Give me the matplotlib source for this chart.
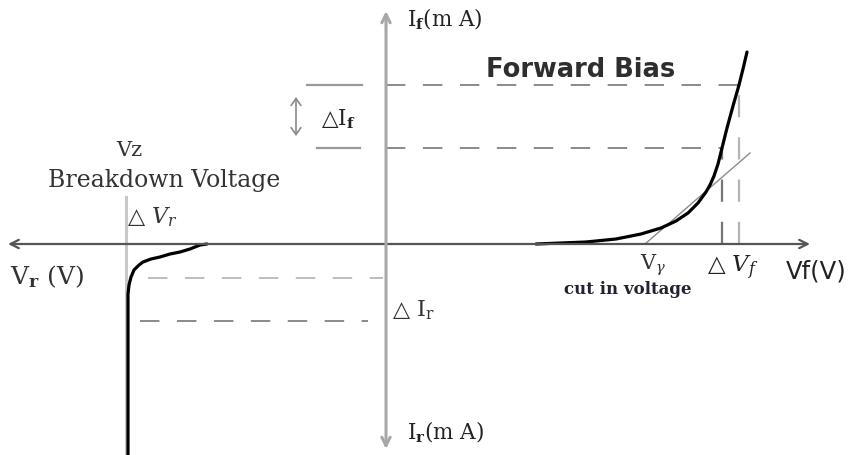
import matplotlib
matplotlib.use("Agg")
import matplotlib.pyplot as plt

plt.rcParams["mathtext.fontset"] = "custom"
plt.rcParams["mathtext.rm"] = "DejaVu Serif"
plt.rcParams["mathtext.it"] = "DejaVu Serif:italic"
plt.rcParams["mathtext.bf"] = "DejaVu Serif:bold"

# Forward-bias branch (voltage, current) in drawing units
fwd_v = [150, 200, 230, 255, 275, 290, 302, 312, 320, 324, 328, 332, 336, 341, 347, 353, 357, 361]
fwd_i = [0, 2, 5, 10, 16, 23, 31, 41, 52, 59, 68, 80, 96, 116, 138, 159, 175, 192]

# Reverse-bias branch up to breakdown
rev_v = [-258, -258, -257, -255, -252, -247, -243, -235, -226, -216, -206, -196, -186, -179]
rev_i = [-211, -50, -41, -33, -26, -21, -18, -15, -13, -10, -8, -5, -1, 0]

# Tangent used to find the cut-in voltage
tan_v = [259, 364]
tan_i = [0, 91]

# Operating points marking the small-signal changes
fwd_idx = [12, 15]          # points on the forward branch
rev_levels = [-34, -77]     # reverse current levels
breakdown_v = -260

fig = plt.figure(figsize=(8.54, 4.55), dpi=100)
ax = fig.add_axes([0, 0, 1, 1])
ax.set_xlim(-386, 468)
ax.set_ylim(-211, 244)
ax.axis("off")

serif = ["DejaVu Serif", "DejaVu Sans"]

# Axes with arrowheads
ax.annotate("", xy=(-378, 0), xytext=(424, 0),
            arrowprops=dict(arrowstyle="<->,head_length=0.6,head_width=0.3",
                            color="#555555", lw=1.6, shrinkA=0, shrinkB=0))
ax.annotate("", xy=(0, 233), xytext=(0, -205),
            arrowprops=dict(arrowstyle="<->,head_length=0.6,head_width=0.3",
                            color="#a8a8a8", lw=2.2, shrinkA=0, shrinkB=0))

dash = (0, (10, 9))

# Forward-bias construction lines
for k, idx in enumerate(fwd_idx):
    v, i = fwd_v[idx], fwd_i[idx]
    col = "#777777" if k == 0 else "#b5b5b5"
    ax.plot([0, v], [i, i], color="#8a8a8a", lw=1.4, ls=dash)
    ax.plot([v, v], [0, i], color=col, lw=1.6, ls=dash)
ax.plot([-79, -24], [fwd_i[fwd_idx[1]]] * 2, color="#999999", lw=1.6)
ax.plot([-69, -26], [fwd_i[fwd_idx[0]]] * 2, color="#999999", lw=1.6)
ax.annotate("", xy=(-90, 147), xytext=(-90, 108),
            arrowprops=dict(arrowstyle="<->,head_length=0.5,head_width=0.35",
                            color="#8a8a8a", lw=1.2, shrinkA=0, shrinkB=0))

# Reverse-bias construction lines
ax.plot([breakdown_v, breakdown_v], [47, -211], color="#c8c8c8", lw=2.2)
ax.plot([-238, -3], [rev_levels[0]] * 2, color="#bdbdbd", lw=1.4, ls=dash)
ax.plot([-246, -18], [rev_levels[1]] * 2, color="#8a8a8a", lw=1.4, ls=dash)

# Characteristic curve
ax.plot(tan_v, tan_i, color="#8c8c8c", lw=1.0)
ax.plot(fwd_v, fwd_i, color="black", lw=2.3, solid_joinstyle="round",
        solid_capstyle="round")
ax.plot(rev_v, rev_i, color="black", lw=2.3, solid_joinstyle="round",
        solid_capstyle="round")

# Labels
ax.text(21, 225, r"I$_{\mathbf{f}}$(m A)", family=serif, fontsize=15.5,
        color="#222222", va="center", ha="left")
ax.text(100, 174, "Forward Bias", family=["DejaVu Sans"], fontweight="bold",
        fontsize=18.5, color="#2e2e2e", va="center", ha="left")
ax.text(-65, 125, "△I$_{\\mathbf{f}}$", family=serif, fontsize=15.5,
        color="#222222", va="center", ha="left")
ax.text(-257, 94, "Vz", family=serif, fontsize=15, color="#333333",
        va="center", ha="center")
ax.text(-222, 64, "Breakdown Voltage", family=serif, fontsize=17,
        color="#333333", va="center", ha="center")
ax.text(-259, 27, "△ $\\mathit{V_r}$", family=serif, fontsize=16,
        color="#333333", va="center", ha="left")
ax.text(-376, -33, "V$_{\\mathbf{r}}$ (V)", family=serif, fontsize=18,
        color="#333333", va="center", ha="left")
ax.text(6, -66, "△ I$_{\\mathrm{r}}$", family=serif, fontsize=16,
        color="#333333", va="center", ha="left")
ax.text(21, -188, "I$_{\\mathbf{r}}$(m A)", family=serif, fontsize=15.5,
        color="#222222", va="center", ha="left")
ax.text(254, -21, "V$_{\\gamma}$", family=serif, fontsize=15,
        color="#333333", va="center", ha="left")
ax.text(242, -46, "cut in voltage", family=serif, fontweight="bold",
        fontsize=12, color="#222233", va="center", ha="center")
ax.text(321, -24, "△ $\\mathit{V_f}$", family=serif, fontsize=16.5,
        color="#222222", va="center", ha="left")
ax.text(400, -28, "Vf(V)", family=["DejaVu Sans"], fontsize=17.5,
        color="#222222", va="center", ha="left")

fig.savefig("out.png", dpi=100, facecolor="white")
